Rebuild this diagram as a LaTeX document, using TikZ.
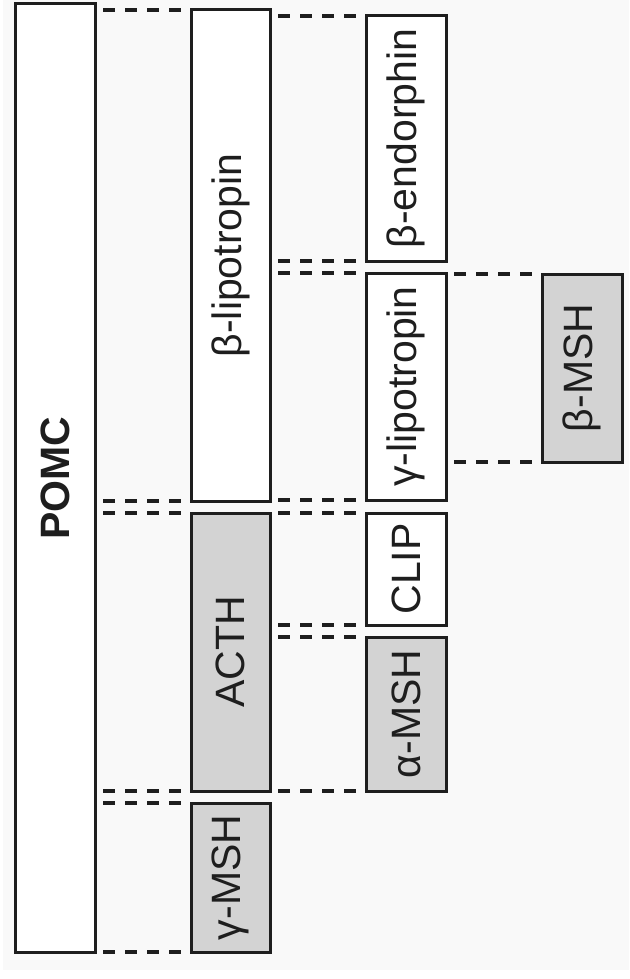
\documentclass[tikz,border=0pt]{standalone}
\usepackage{fontspec}
\usepackage{graphicx}
\setmainfont{Liberation Sans}
\definecolor{bgc}{HTML}{F9F9F9}
\definecolor{grayfill}{HTML}{D3D3D3}
\definecolor{ink}{HTML}{1E1E1E}
\begin{document}
\begin{tikzpicture}[x=1pt,y=-1pt,
  pbox/.style={draw=ink,line width=3pt,fill=white,inner sep=0pt,outer sep=0pt,
    text=ink,font=\fontsize{41}{48}\selectfont},
  gbox/.style={pbox,fill=grayfill},
  gapline/.style={draw=ink,line width=3.4pt,dash pattern=on 12pt off 10pt}]
\useasboundingbox (0,0) rectangle (629,979);
\fill[white] (0,0) rectangle (629,979);
\fill[bgc] (3,0) rectangle (629,970);
% column 1
\node[pbox,minimum width=80pt,minimum height=948pt] (pomc) at (55,478) {\rotatebox{90}{\bfseries POMC}};
% column 2
\node[pbox,minimum width=79pt,minimum height=491pt] (blip) at (230.5,255.5) {\rotatebox{90}{β-lipotropin}};
\node[gbox,minimum width=79pt,minimum height=278pt] (acth) at (230.5,652) {\rotatebox{90}{ACTH}};
\node[gbox,minimum width=79pt,minimum height=149pt] (gmsh) at (230.5,877.5) {\rotatebox{90}{γ-MSH}};
% column 3
\node[pbox,minimum width=80pt,minimum height=245pt] (bend) at (406,138.5) {\rotatebox{90}{β-endorphin}};
\node[pbox,minimum width=80pt,minimum height=227pt] (glip) at (406,386.5) {\rotatebox{90}{γ-lipotropin}};
\node[pbox,minimum width=80pt,minimum height=112pt] (clip) at (406,569) {\rotatebox{90}{CLIP}};
\node[gbox,minimum width=80pt,minimum height=154pt] (amsh) at (406,714) {\rotatebox{90}{α-MSH}};
% column 4
\node[gbox,minimum width=80pt,minimum height=188pt] (bmsh) at (582,368) {\rotatebox{90}{β-MSH}};
% dashed guides POMC -> column 2
\draw[gapline] ([xshift=8pt]pomc.east |- blip.north) -- ([xshift=-8pt]blip.north west);
\draw[gapline] ([xshift=8pt]pomc.east |- blip.south) -- ([xshift=-8pt]blip.south west);
\draw[gapline] ([xshift=8pt]pomc.east |- acth.north) -- ([xshift=-8pt]acth.north west);
\draw[gapline] ([xshift=8pt]pomc.east |- acth.south) -- ([xshift=-8pt]acth.south west);
\draw[gapline] ([xshift=8pt]pomc.east |- gmsh.north) -- ([xshift=-8pt]gmsh.north west);
\draw[gapline] ([xshift=8pt]pomc.east |- gmsh.south) -- ([xshift=-8pt]gmsh.south west);
% dashed guides column 2 -> column 3
\draw[gapline] ([xshift=8pt]blip.east |- bend.north) -- ([xshift=-8pt]bend.north west);
\draw[gapline] ([xshift=8pt]blip.east |- bend.south) -- ([xshift=-8pt]bend.south west);
\draw[gapline] ([xshift=8pt]blip.east |- glip.north) -- ([xshift=-8pt]glip.north west);
\draw[gapline] ([xshift=8pt]blip.east |- glip.south) -- ([xshift=-8pt]glip.south west);
\draw[gapline] ([xshift=8pt]acth.east |- clip.north) -- ([xshift=-8pt]clip.north west);
\draw[gapline] ([xshift=8pt]acth.east |- clip.south) -- ([xshift=-8pt]clip.south west);
\draw[gapline] ([xshift=8pt]acth.east |- amsh.north) -- ([xshift=-8pt]amsh.north west);
\draw[gapline] ([xshift=8pt]acth.east |- amsh.south) -- ([xshift=-8pt]amsh.south west);
% dashed guides column 3 -> beta-MSH
\draw[gapline] ([xshift=8pt]glip.east |- bmsh.north) -- ([xshift=-8pt]bmsh.north west);
\draw[gapline] ([xshift=8pt]glip.east |- bmsh.south) -- ([xshift=-8pt]bmsh.south west);
\end{tikzpicture}
\end{document}
